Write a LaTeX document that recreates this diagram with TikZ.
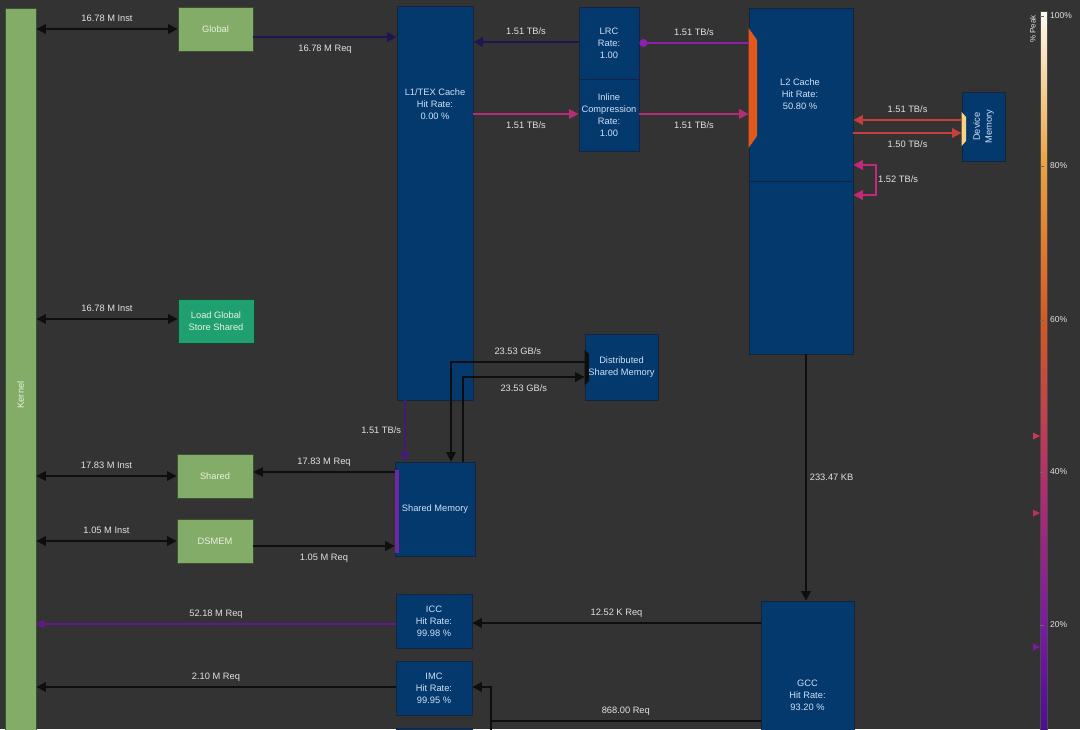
\documentclass[tikz,border=0pt]{standalone}
\usepackage{fontspec}
\setmainfont{Liberation Sans}
\usetikzlibrary{arrows.meta,positioning,calc}

\definecolor{bgdark}{RGB}{51,51,51}
\definecolor{navybox}{RGB}{4,57,110}
\definecolor{navyedge}{RGB}{20,36,62}
\definecolor{greenbox}{RGB}{131,172,105}
\definecolor{greenedge}{RGB}{60,80,50}
\definecolor{greentxt}{RGB}{232,242,222}
\definecolor{tealbox}{RGB}{32,160,112}
\definecolor{tealedge}{RGB}{20,70,50}
\definecolor{txtlight}{RGB}{226,226,226}
\definecolor{txtbox}{RGB}{205,225,248}
\definecolor{lnblack}{RGB}{14,14,14}
\definecolor{lnnavy}{RGB}{30,22,80}
\definecolor{lnpurple}{RGB}{140,32,170}
\definecolor{lnmagenta}{RGB}{180,45,120}
\definecolor{lnred}{RGB}{198,62,62}
\definecolor{lnpink}{RGB}{196,40,120}
\definecolor{lnviolet}{RGB}{66,26,122}
\definecolor{lnicc}{RGB}{96,26,142}
\definecolor{portorange}{RGB}{226,88,26}
\definecolor{portyellow}{RGB}{246,212,132}
\definecolor{portpurple}{RGB}{112,40,162}
\definecolor{pk100}{RGB}{255,252,242}
\definecolor{pk80}{RGB}{236,160,58}
\definecolor{pk60}{RGB}{216,88,30}
\definecolor{pk40}{RGB}{188,46,104}
\definecolor{pk20}{RGB}{124,26,166}
\definecolor{pk05}{RGB}{78,12,148}

\begin{document}
\begin{tikzpicture}[x=1pt,y=-1pt,
  font=\fontsize{9.3}{12}\selectfont,
  box/.style={draw=navyedge,fill=navybox,line width=0.8pt,inner sep=0pt,text=txtbox,align=center},
  gbox/.style={draw=greenedge,fill=greenbox,line width=0.8pt,inner sep=0pt,text=greentxt,align=center,
    minimum width=76pt,minimum height=44pt},
  boxtxt/.style={text=txtbox,align=center,inner sep=0pt},
  lbl/.style={text=txtlight,inner sep=1pt,text height=7pt,text depth=2pt},
  link/.style={line width=1.8pt,draw=lnblack,-{Triangle[length=9.5pt,width=9.5pt]}},
  dlink/.style={line width=1.8pt,draw=lnblack,{Triangle[length=9.5pt,width=9.5pt]}-{Triangle[length=9.5pt,width=9.5pt]}},
  dotlink/.style={line width=1.8pt,-{Circle[length=8pt]}}
]
% background
\fill[bgdark] (0,0) rectangle (1080,729);
\useasboundingbox (0,0) rectangle (1080,729);
\clip (0,0) rectangle (1080,729);

% Kernel and instruction boxes
\node[gbox, minimum width=31pt, minimum height=774pt] (kernel) at (20.5,395) {\rotatebox{90}{Kernel}};
\node[gbox, minimum width=75pt] (glob) at (215.5,29) {Global};
\node[gbox, fill=tealbox, draw=tealedge] (lgss) at (216,321) {Load Global\\Store Shared};
\node[gbox] (shrd) at (215,476) {Shared};
\node[gbox] (dsmem) at (215,541) {DSMEM};

% memory units
\node[box, minimum width=76pt, minimum height=394pt] (l1) at (435,203) {};
\node[boxtxt] (l1txt) at (435,104) {L1/TEX Cache\\Hit Rate:\\0.00 \%};
\node[box, minimum width=60pt, minimum height=72pt] (lrc) at (609,43) {LRC\\Rate:\\1.00};
\node[box, minimum width=60pt, minimum height=72pt] (inl) at (609,115) {Inline\\Compression\\Rate:\\1.00};
\node[box, minimum width=104pt, minimum height=346pt] (l2) at (801,181) {};
\draw[navyedge, line width=0.8pt] (l2.west) -- (l2.east);
\node[boxtxt] (l2txt) at (800,94) {L2 Cache\\Hit Rate:\\50.80 \%};
\node[box, minimum width=43pt, minimum height=69pt] (dev) at (983.5,126.5)
  {\rotatebox{90}{\begin{tabular}{@{}c@{}}Device\\Memory\end{tabular}}};
\node[box, minimum width=73pt, minimum height=66pt] (dsm) at (621.5,367) {Distributed\\Shared Memory};
\node[box, minimum width=80pt, minimum height=94pt] (smem) at (435,509) {Shared Memory};
\node[box, minimum width=76pt, minimum height=54pt] (icc) at (434,621) {ICC\\Hit Rate:\\99.98 \%};
\node[box, minimum width=76pt, minimum height=54pt] (imc) at (434,688) {IMC\\Hit Rate:\\99.95 \%};
\node[box, minimum width=76pt, minimum height=54pt] (nxt) at (434,755) {};
\node[box, minimum width=93pt, minimum height=188pt] (gcc) at (807.5,695) {GCC\\Hit Rate:\\93.20 \%};

% ports
\fill[portorange] (l2.west |- 0,28) -- (757,40) -- (757,136) -- (l2.west |- 0,148) -- cycle;
\fill[portyellow] (dev.west |- 0,112) -- (966,117) -- (966,141) -- (dev.west |- 0,146) -- cycle;
\fill[lnblack] (dsm.west |- 0,350) -- (589,354) -- (589,381) -- (dsm.west |- 0,385) -- cycle;
\fill[portpurple] (smem.west |- 0,470) rectangle (399,553);

% kernel <-> instruction boxes
\draw[dlink] (kernel.east |- 0,29) -- (glob.west) node[lbl, midway, above=4pt] {16.78 M Inst};
\draw[dlink] (kernel.east |- 0,319) -- (lgss.west |- 0,319) node[lbl, midway, above=4pt] {16.78 M Inst};
\draw[dlink] (kernel.east |- 0,476) -- (shrd.west) node[lbl, midway, above=4pt] {17.83 M Inst};
\draw[dlink] (kernel.east |- 0,541) -- (dsmem.west) node[lbl, midway, above=4pt] {1.05 M Inst};

% requests
\draw[link, draw=lnnavy] (glob.east |- 0,37) -- (l1.west |- 0,37) node[lbl, midway, below=5.5pt] {16.78 M Req};
\draw[link] (smem.west |- 0,472) -- (shrd.east |- 0,472) node[lbl, midway, above=4pt] {17.83 M Req};
\draw[link] (dsmem.east |- 0,546) -- (smem.west |- 0,546) node[lbl, midway, below=5.5pt] {1.05 M Req};

% L1 <-> LRC / compression <-> L2
\draw[link, draw=lnnavy] (lrc.west |- 0,42) -- (l1.east |- 0,42) node[lbl, midway, above=4pt] {1.51 TB/s};
\draw[dotlink, draw=lnpurple, fill=lnpurple] (l2.west |- 0,43) -- (lrc.east |- 0,43) node[lbl, midway, above=4pt] {1.51 TB/s};
\draw[link, draw=lnmagenta] (l1.east |- 0,114) -- (inl.west |- 0,114) node[lbl, midway, below=5.5pt] {1.51 TB/s};
\draw[link, draw=lnmagenta] (inl.east |- 0,114) -- (l2.west |- 0,114) node[lbl, midway, below=5.5pt] {1.51 TB/s};

% L2 <-> device memory
\draw[link, draw=lnred] (dev.west |- 0,120) -- (l2.east |- 0,120) node[lbl, midway, above=4pt] {1.51 TB/s};
\draw[link, draw=lnred] (l2.east |- 0,133) -- (dev.west |- 0,133) node[lbl, midway, below=5.5pt] {1.50 TB/s};
\coordinate (loopr) at (876,180);
\draw[dlink, draw=lnpink] (l2.east |- 0,165) -| (loopr) |- (l2.east |- 0,195);
\node[lbl, right=1pt of loopr] (looplbl) {1.52 TB/s};

% shared memory paths
\draw[link, draw=lnviolet] (l1.south -| 405,0) -- (smem.north -| 405,0) node[lbl, midway, left=2pt] {1.51 TB/s};
\draw[link] (dsm.west |- 0,362) -| node[lbl, pos=0.25, above=4pt] {23.53 GB/s} (smem.north -| 451,0);
\draw[link] (smem.north -| 463,0) |- node[lbl, pos=0.75, below=5.5pt] {23.53 GB/s} (dsm.west |- 0,377);

% L2 -> GCC -> ICC / IMC -> kernel
\draw[link] (l2.south -| 806,0) -- (gcc.north -| 806,0) node[lbl, midway, right=2pt] {233.47 KB};
\draw[link] (gcc.west |- 0,623) -- (icc.east |- 0,623) node[lbl, midway, above=4pt] {12.52 K Req};
\draw[line width=1.8pt, draw=lnicc, -{Triangle[length=8pt,width=8pt]}] (icc.west |- 0,624) -- (kernel.east |- 0,624)
  node[lbl, midway, above=4pt] {52.18 M Req};
\draw[link] (imc.west |- 0,687) -- (kernel.east |- 0,687) node[lbl, midway, above=4pt] {2.10 M Req};
\coordinate (imcbend) at (491,687);
\draw[link] (gcc.west |- 0,721) -| node[lbl, pos=0.25, above=4pt] {868.00 Req} (imcbend) -- (imc.east |- imcbend);
\draw[line width=1.8pt, draw=lnblack] (imcbend) -- (imcbend |- nxt.south);

% peak colour bar
\shade[top color=pk100, bottom color=pk80] (1040,11) rectangle (1047,166);
\shade[top color=pk80, bottom color=pk60] (1040,166) rectangle (1047,320);
\shade[top color=pk60, bottom color=pk40] (1040,320) rectangle (1047,472);
\shade[top color=pk40, bottom color=pk20] (1040,472) rectangle (1047,625);
\shade[top color=pk20, bottom color=pk05] (1040,625) rectangle (1047,730);
\draw[black!70, line width=0.6pt] (1040,11) rectangle (1047,735);
\foreach \yy/\pc in {16/100\%,166/80\%,320/60\%,472/40\%,625/20\%}{
  \draw[black!60, line width=0.8pt] (1040,\yy) -- (1044,\yy);
  \node[lbl, anchor=west, font=\fontsize{8.5}{10}\selectfont] at (1049,\yy) {\pc};
}
\node[lbl, rotate=90, font=\fontsize{8}{10}\selectfont] (peak) at (1033,29) {\% Peak};
\foreach \yy/\cc in {436/pk40!70!pk60,513/pk40,647/pk20}{
  \fill[\cc] (1033,\yy-3.5) -- (1040,\yy) -- (1033,\yy+3.5) -- cycle;
}
\end{tikzpicture}
\end{document}
